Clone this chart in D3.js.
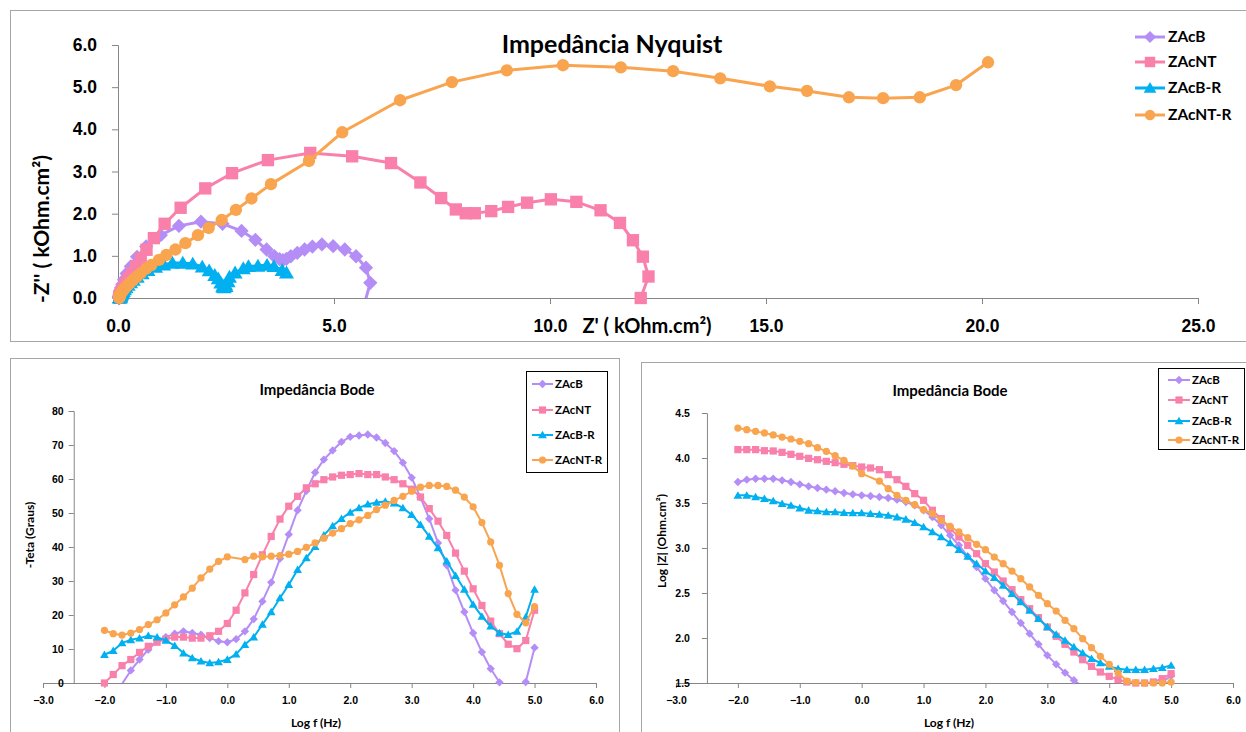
<!DOCTYPE html>
<html><head><meta charset="utf-8">
<script src="https://cdn.jsdelivr.net/npm/d3@7"></script>
<style>
body{margin:0;background:#fff;}
svg{display:block;font-family:Lato,"Open Sans",sans-serif;font-weight:bold;}
</style></head><body>
<svg id="c" width="1246" height="732"></svg>
<script>
// ---------------- DATA ----------------
const seriesNames = ["ZAcB","ZAcNT","ZAcB-R","ZAcNT-R"];

const logF = [-2.000,-1.857,-1.714,-1.571,-1.429,-1.286,-1.143,-1.000,-0.857,-0.714,-0.571,-0.429,-0.286,-0.143,0.000,0.143,0.286,0.429,0.571,0.714,0.857,1.000,1.143,1.286,1.429,1.571,1.714,1.857,2.000,2.143,2.286,2.429,2.571,2.714,2.857,3.000,3.143,3.286,3.429,3.571,3.714,3.857,4.000,4.143,4.286,4.429,4.571,4.714,4.857,5.000];

// Bode phase (-theta, degrees)
const phaseZAcB   = [-8,-4,-0.3,3.7,6.9,9.8,12.4,13.5,14.5,15.2,14.7,14.2,13.2,12.3,12.0,12.9,15.2,18.8,24.0,29.6,36.6,43.7,50.8,56.5,61.9,65.7,68.4,70.9,72.4,72.8,73.1,72.2,70.6,68.2,64.8,60.4,54.6,48.3,41.2,34.6,27.3,20.9,14.7,9.1,4.2,0.2,-3,-3.5,0.3,10.4];
const phaseZAcNT  = [0,2.5,5.1,6.9,9.0,10.8,12.0,12.9,13.5,13.5,13.2,13.2,13.9,15.2,17.5,21.4,26.5,31.9,37.7,43.1,48.2,52.0,54.9,57.4,58.6,59.8,60.6,61.1,61.3,61.6,61.3,61.3,60.6,59.8,58.6,57.0,54.7,51.3,47.6,43.4,38.2,32.9,27.7,22.8,18.2,14.5,11.4,10.1,12.5,21.4];
const phaseZAcBR  = [8.3,9.5,11.8,12.7,13.2,13.9,13.5,12.5,11.0,8.8,7.4,6.4,5.9,6.2,6.9,8.5,11.3,13.5,17.2,20.9,25.0,28.9,33.3,36.8,40.1,43.5,46.2,48.3,50.2,51.5,52.6,53.1,53.4,52.9,51.5,49.5,46.6,43.1,39.7,35.8,31.6,27.5,23.1,19.6,16.7,14.7,14.2,15.2,19.4,27.5];
const phaseZAcNTR = [15.5,14.5,14.1,14.7,15.7,17.2,18.6,20.6,23.0,25.3,27.9,30.9,33.5,35.8,37.1,null,36.3,37.3,37.1,37.3,37.5,37.9,38.7,39.9,41.2,42.6,44.1,45.4,46.9,48.0,49.3,51.0,52.3,53.7,54.9,56.4,57.6,58.1,58.1,57.8,56.7,54.7,51.8,47.2,41.5,34.6,26.3,20.2,17.7,22.5];

// Bode modulus (log |Z|, Ohm.cm2)
const logZZAcB   = [3.733,3.759,3.770,3.770,3.770,3.752,3.733,3.707,3.685,3.667,3.648,3.630,3.611,3.596,3.585,3.578,3.567,3.556,3.537,3.511,3.474,3.419,3.344,3.252,3.141,3.030,2.907,2.789,2.659,2.530,2.411,2.289,2.167,2.048,1.930,1.807,1.707,1.615,1.530,1.46,1.42,1.39,1.37,1.36,1.36,1.37,1.39,1.43,1.51,1.58];
const logZZAcNT  = [4.093,4.093,4.093,4.081,4.078,4.063,4.041,4.019,3.996,3.981,3.963,3.948,3.930,3.915,3.900,3.889,3.870,3.815,3.759,3.685,3.604,3.530,3.419,3.326,3.215,3.122,3.030,2.937,2.826,2.733,2.633,2.537,2.426,2.326,2.226,2.122,2.019,1.930,1.844,1.759,1.685,1.622,1.574,1.537,1.511,1.500,1.500,1.511,1.548,1.604];
const logZZAcBR  = [3.585,3.585,3.567,3.548,3.522,3.493,3.474,3.444,3.419,3.411,3.400,3.400,3.393,3.389,3.389,3.381,3.374,3.363,3.344,3.319,3.281,3.233,3.178,3.122,3.056,2.981,2.907,2.826,2.744,2.670,2.585,2.493,2.400,2.307,2.215,2.122,2.041,1.974,1.900,1.833,1.770,1.722,1.685,1.659,1.648,1.648,1.648,1.659,1.670,1.696];
const logZZAcNTR = [4.333,4.315,4.296,4.278,4.256,4.233,4.211,4.185,4.159,4.115,4.074,4.026,3.974,3.911,3.826,null,3.744,3.659,3.585,3.530,3.481,3.426,3.381,3.307,3.241,3.178,3.115,3.041,2.981,2.900,2.826,2.744,2.659,2.567,2.474,2.381,2.300,2.196,2.104,1.993,1.893,1.796,1.707,1.611,1.522,1.505,1.500,1.500,1.500,1.511];

// Nyquist Z' and -Z'' (kOhm.cm2)
const reZAcB   = [5.2,5.55,5.72,5.84,5.74,5.51,5.25,4.98,4.72,4.50,4.32,4.15,4.00,3.90,3.82,3.74,3.62,3.44,3.18,2.86,2.42,1.92,1.41,0.99,0.652,0.441,0.297,0.201,0.138,0.100,0.075,0.060,0.049,0.042,0.036,0.032,0.029,0.027,0.026,0.024,0.023,0.023,0.023,0.023,0.023,0.023,0.024,0.027,0.032,0.037];
const imZAcB   = [-0.8,-0.45,-0.08,0.36,0.72,0.99,1.15,1.23,1.27,1.22,1.15,1.07,0.99,0.93,0.90,0.92,0.99,1.15,1.38,1.59,1.76,1.81,1.71,1.49,1.221,0.977,0.750,0.581,0.435,0.324,0.247,0.186,0.139,0.104,0.077,0.056,0.041,0.031,0.022,0.016,0.012,0.009,0.006,0.004,0.002,0.000,-0.001,-0.002,0.000,0.007];
const reZAcNT  = [12.10,12.28,12.15,11.92,11.62,11.17,10.61,10.02,9.47,9.03,8.64,8.26,8.05,7.82,7.48,7.0,6.32,5.42,4.45,3.47,2.64,2.02,1.45,1.08,0.83,0.66,0.526,0.418,0.322,0.257,0.206,0.165,0.131,0.107,0.088,0.072,0.060,0.053,0.047,0.042,0.038,0.035,0.033,0.032,0.031,0.031,0.031,0.032,0.034,0.037];
const imZAcNT  = [0,0.51,0.98,1.37,1.78,2.08,2.28,2.34,2.26,2.16,2.06,2.01,2.01,2.10,2.37,2.74,3.20,3.36,3.44,3.27,2.96,2.60,2.14,1.76,1.42,1.144,0.934,0.757,0.588,0.476,0.377,0.302,0.233,0.183,0.143,0.111,0.085,0.066,0.052,0.039,0.030,0.023,0.017,0.013,0.010,0.008,0.006,0.006,0.008,0.015];
const reZAcBR  = [3.90,3.80,3.61,3.45,3.24,3.02,2.90,2.71,2.58,2.55,2.49,2.50,2.46,2.43,2.43,2.38,2.32,2.24,2.11,1.95,1.73,1.50,1.26,1.06,0.870,0.694,0.559,0.446,0.355,0.291,0.234,0.187,0.150,0.122,0.102,0.086,0.076,0.069,0.061,0.055,0.050,0.047,0.045,0.043,0.043,0.043,0.043,0.044,0.044,0.044];
const imZAcBR  = [0.60,0.66,0.75,0.78,0.76,0.75,0.70,0.60,0.50,0.39,0.32,0.28,0.25,0.26,0.29,0.36,0.46,0.54,0.65,0.74,0.81,0.83,0.83,0.79,0.733,0.659,0.583,0.500,0.426,0.366,0.306,0.249,0.202,0.162,0.128,0.100,0.080,0.064,0.051,0.040,0.031,0.024,0.019,0.015,0.013,0.011,0.011,0.012,0.016,0.023];
const reZAcNTR = [20.14,19.40,18.56,17.71,16.92,15.95,15.09,13.94,12.85,11.64,10.30,9.00,7.73,6.53,5.19,null,4.42,3.54,3.09,2.73,2.40,2.10,1.85,1.56,1.33,1.12,0.95,0.772,0.654,0.531,0.437,0.349,0.279,0.218,0.171,0.133,0.107,0.083,0.067,0.052,0.043,0.036,0.031,0.028,0.025,0.026,0.028,0.030,0.030,0.030];
const imZAcNTR = [5.59,5.05,4.76,4.74,4.76,4.91,5.02,5.21,5.38,5.47,5.52,5.40,5.12,4.69,3.93,null,3.25,2.70,2.36,2.09,1.85,1.66,1.49,1.30,1.15,1.02,0.905,0.782,0.699,0.590,0.508,0.431,0.361,0.297,0.244,0.200,0.169,0.133,0.108,0.083,0.065,0.051,0.040,0.030,0.022,0.018,0.014,0.011,0.010,0.012];

// Tick values
const nyXTicks = [0,5,10,15,20,25];
const nyYTicks = [0,1,2,3,4,5,6];
const bodeXTicks = [-3,-2,-1,0,1,2,3,4,5,6];
const phaseTicks = [0,10,20,30,40,50,60,70,80];
const logZTicks = [1.5,2.0,2.5,3.0,3.5,4.0,4.5];

// ---------------- STYLE ----------------
const colors = ["#B48EF6","#F880AB","#00B0F0","#F9A44F"];
const shapes = ["diamond","square","triangle","circle"];
const axisColor = "#868686";

const svg = d3.select("#c");
const defs = svg.append("defs");

function shapePath(shape, r){
  if (shape==="diamond") return `M0,${-r}L${r},0L0,${r}L${-r},0Z`;
  if (shape==="square") return `M${-r},${-r}h${2*r}v${2*r}h${-2*r}Z`;
  if (shape==="triangle") return `M0,${-r}L${r*1.05},${r*0.8}L${-r*1.05},${r*0.8}Z`;
  return `M${r},0A${r},${r} 0 1,1 ${-r},0A${r},${r} 0 1,1 ${r},0Z`;
}
const markerR = {diamond:1.1, square:0.95, triangle:1.1, circle:0.95};

function addClip(id, x, y, w, h){
  defs.append("clipPath").attr("id",id).append("rect").attr("x",x).attr("y",y).attr("width",w).attr("height",h);
}

function drawSeries(g, xs, ys, xS, yS, k, r, lw, clipId, yMin){
  const pts = xs.map((x,i)=>({x:x, y:ys[i]})).filter(d=>d.x!=null && d.y!=null);
  const line = d3.line().x(d=>xS(d.x)).y(d=>yS(d.y));
  g.append("path").datum(pts).attr("d",line).attr("fill","none")
    .attr("stroke",colors[k]).attr("stroke-width",lw).attr("stroke-linejoin","round")
    .attr("clip-path",`url(#${clipId})`);
  g.selectAll(null).data(pts.filter(d=>d.y>=yMin-1e-9)).enter().append("path")
    .attr("transform",d=>`translate(${xS(d.x)},${yS(d.y)})`)
    .attr("d",shapePath(shapes[k], r*markerR[shapes[k]]))
    .attr("fill",colors[k]);
}

function styleAxis(g, size){
  g.select(".domain").attr("stroke",axisColor).attr("stroke-width",1);
  g.selectAll(".tick line").attr("stroke",axisColor);
  g.selectAll(".tick text").attr("fill","#000").style("font-size",size+"px").style("font-weight","bold");
}

function legend(g, items, x0, x1, tx, ys, fs, r, lw){
  items.forEach((name,k)=>{
    const y = ys[k];
    g.append("line").attr("x1",x0).attr("x2",x1).attr("y1",y).attr("y2",y)
      .attr("stroke",colors[k]).attr("stroke-width",lw);
    g.append("path").attr("transform",`translate(${(x0+x1)/2},${y})`)
      .attr("d",shapePath(shapes[k], r*markerR[shapes[k]])).attr("fill",colors[k]);
    g.append("text").attr("x",tx).attr("y",y).attr("dy","0.35em")
      .style("font-size",fs+"px").text(name);
  });
}

// ---------------- FRAMES ----------------
svg.append("rect").attr("x",10.5).attr("y",10.5).attr("width",1260).attr("height",331)
  .attr("fill","none").attr("stroke","#a6a6a6");
svg.append("rect").attr("x",10.5).attr("y",358.5).attr("width",609).attr("height",420)
  .attr("fill","none").attr("stroke","#a6a6a6");
svg.append("rect").attr("x",641.5).attr("y",362.5).attr("width",640).attr("height",420)
  .attr("fill","none").attr("stroke","#a6a6a6");

// ---------------- NYQUIST ----------------
const nyX = d3.scaleLinear().domain([0,25]).range([118,1198]);
const nyY = d3.scaleLinear().domain([0,6]).range([298,45]);
addClip("clipNy", 100, 30, 1140, 268);

const gNy = svg.append("g");
const nyXa = gNy.append("g").attr("transform","translate(0,298)")
  .call(d3.axisBottom(nyX).tickValues(nyXTicks).tickFormat(d3.format(".1f")).tickSizeOuter(0).tickSize(6).tickPadding(16));
styleAxis(nyXa, 17.5);
const nyYa = gNy.append("g").attr("transform","translate(118,0)")
  .call(d3.axisLeft(nyY).tickValues(nyYTicks).tickFormat(d3.format(".1f")).tickSizeOuter(0).tickSize(6).tickPadding(15));
styleAxis(nyYa, 17.5);

const nyRe = [reZAcB, reZAcNT, reZAcBR, reZAcNTR];
const nyIm = [imZAcB, imZAcNT, imZAcBR, imZAcNTR];
for (let k=0;k<4;k++) drawSeries(gNy, nyRe[k], nyIm[k], nyX, nyY, k, 6.5, 3, "clipNy", 0);

gNy.append("text").attr("x",612).attr("y",53).attr("text-anchor","middle")
  .style("font-size","25px").text("Impedância Nyquist");
gNy.append("text").attr("transform","translate(49,229) rotate(-90)").attr("text-anchor","middle")
  .style("font-size","21px").text("-Z'' ( kOhm.cm²)");
gNy.append("text").attr("x",647).attr("y",333).attr("text-anchor","middle")
  .style("font-size","20px").text("Z' ( kOhm.cm²)");
legend(gNy, seriesNames, 1135, 1165, 1168, [37,62,88,115], 15.5, 5.5, 3);

// ---------------- BODE PHASE ----------------
const bpX = d3.scaleLinear().domain([-3,6]).range([43,596]);
const bpY = d3.scaleLinear().domain([0,80]).range([683,411]);
addClip("clipBp", 20, 400, 590, 283);
const gBp = svg.append("g");
const bpXa = gBp.append("g").attr("transform","translate(0,683)")
  .call(d3.axisBottom(bpX).tickValues(bodeXTicks).tickFormat(d3.format(".1f")).tickSizeOuter(0).tickSize(5).tickPadding(9));
styleAxis(bpXa, 10.5);
const bpYa = gBp.append("g").attr("transform",`translate(${bpX(-2.5)},0)`)
  .call(d3.axisLeft(bpY).tickValues(phaseTicks).tickFormat(d3.format("d")).tickSizeOuter(0).tickSize(5).tickPadding(5));
styleAxis(bpYa, 10.5);
const bpData = [phaseZAcB, phaseZAcNT, phaseZAcBR, phaseZAcNTR];
for (let k=0;k<4;k++) drawSeries(gBp, logF, bpData[k], bpX, bpY, k, 3.8, 2, "clipBp", 0);
gBp.append("text").attr("x",317).attr("y",395).attr("text-anchor","middle")
  .style("font-size","15px").text("Impedância Bode");
gBp.append("text").attr("transform","translate(34,535) rotate(-90)").attr("text-anchor","middle")
  .style("font-size","12px").text("-Teta (Graus)");
gBp.append("text").attr("x",316).attr("y",727).attr("text-anchor","middle")
  .style("font-size","12px").text("Log f (Hz)");
gBp.append("rect").attr("x",526.5).attr("y",371.5).attr("width",81).attr("height",101)
  .attr("fill","#fff").attr("stroke","#000").attr("stroke-width",1);
legend(gBp, seriesNames, 532, 553, 555, [384,410,435,460], 11.5, 3.8, 2);

// ---------------- BODE MODULUS ----------------
const bmX = d3.scaleLinear().domain([-3,6]).range([676,1233]);
const bmY = d3.scaleLinear().domain([1.5,4.5]).range([683,413]);
addClip("clipBm", 650, 400, 596, 283);
const gBm = svg.append("g");
const bmXa = gBm.append("g").attr("transform","translate(0,683)")
  .call(d3.axisBottom(bmX).tickValues(bodeXTicks).tickFormat(d3.format(".1f")).tickSizeOuter(0).tickSize(5).tickPadding(9));
styleAxis(bmXa, 10.5);
const bmYa = gBm.append("g").attr("transform",`translate(${bmX(-2.5)},0)`)
  .call(d3.axisLeft(bmY).tickValues(logZTicks).tickFormat(d3.format(".1f")).tickSizeOuter(0).tickSize(5).tickPadding(12));
styleAxis(bmYa, 10.5);
const bmData = [logZZAcB, logZZAcNT, logZZAcBR, logZZAcNTR];
for (let k=0;k<4;k++) drawSeries(gBm, logF, bmData[k], bmX, bmY, k, 3.8, 2, "clipBm", 1.5);
gBm.append("text").attr("x",950).attr("y",396).attr("text-anchor","middle")
  .style("font-size","15px").text("Impedância Bode");
gBm.append("text").attr("transform","translate(666,541) rotate(-90)").attr("text-anchor","middle")
  .style("font-size","12px").text("Log |Z| (Ohm.cm²)");
gBm.append("text").attr("x",949).attr("y",727).attr("text-anchor","middle")
  .style("font-size","12px").text("Log f (Hz)");
gBm.append("rect").attr("x",1158.5).attr("y",368.5).attr("width",86).attr("height",81)
  .attr("fill","#fff").attr("stroke","#000").attr("stroke-width",1);
legend(gBm, seriesNames, 1168, 1190, 1192, [380,400,421,440], 11.5, 3.8, 2);
</script>
</body></html>
